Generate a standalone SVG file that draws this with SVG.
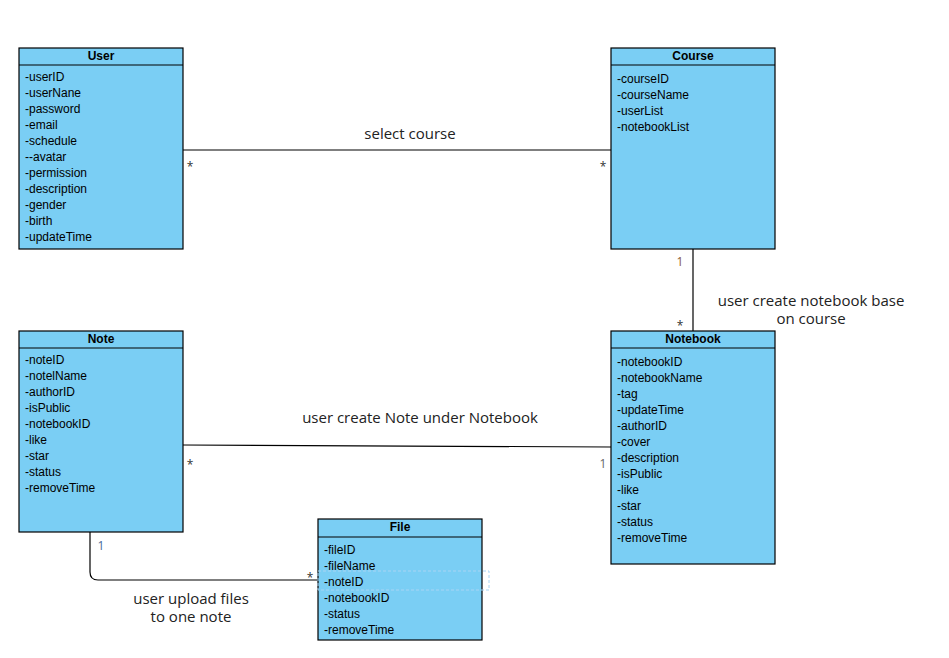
<svg xmlns="http://www.w3.org/2000/svg" width="949" height="658" viewBox="0 0 949 658">
  <style>
    .box { fill: #7acef4; stroke: #000; stroke-width: 1.2; }
    .sep { stroke: #000; stroke-width: 1.2; }
    .title { font-family: "Liberation Sans", Arial, sans-serif; font-size: 12px; font-weight: bold; text-anchor: middle; fill: #000; }
    .attr { font-family: "Liberation Sans", Arial, sans-serif; font-size: 12px; fill: #000; }
    .edge { fill: none; stroke: #000; stroke-width: 1.2; }
    .lbl { font-family: "Open Sans", "Noto Sans", sans-serif; font-size: 15px; fill: #222; text-anchor: middle; }
    .mul { font-family: "Open Sans", "Noto Sans", sans-serif; font-size: 12px; fill: #333; text-anchor: middle; }
  </style>

  <!-- associations -->
  <g id="connectors">
    <line class="edge" x1="183" y1="150" x2="611" y2="150"/>
    <text class="lbl" x="410" y="139">select course</text>
    <text class="mul" x="190" y="171">*</text>
    <text class="mul" x="603" y="171">*</text>

    <line class="edge" x1="693" y1="249" x2="693" y2="331"/>
    <text class="mul" x="680" y="266" style="fill:#8a5a3a">1</text>
    <text class="mul" x="680" y="330">*</text>
    <text class="lbl" x="811" y="306">user create notebook base</text>
    <text class="lbl" x="811" y="324">on course</text>

    <line class="edge" x1="183" y1="445" x2="611" y2="447"/>
    <text class="lbl" x="420" y="423">user create Note under Notebook</text>
    <text class="mul" x="190" y="469">*</text>
    <text class="mul" x="603" y="468" style="fill:#666">1</text>

    <path class="edge" d="M90 532 V572 Q90 580 98 580 H318"/>
    <text class="mul" x="101" y="550" style="fill:#4a6a9a">1</text>
    <text class="mul" x="310" y="582">*</text>
    <text class="lbl" x="191" y="604">user upload files</text>
    <text class="lbl" x="191" y="622">to one note</text>
  </g>

  <g id="user">
    <rect class="box" x="19" y="48" width="164" height="201"/>
    <line class="sep" x1="19" y1="65" x2="183" y2="65"/>
    <text class="title" x="101" y="60">User</text>
    <text class="attr" x="25" y="81">-userID</text>
    <text class="attr" x="25" y="97">-userNane</text>
    <text class="attr" x="25" y="113">-password</text>
    <text class="attr" x="25" y="129">-email</text>
    <text class="attr" x="25" y="145">-schedule</text>
    <text class="attr" x="25" y="161">--avatar</text>
    <text class="attr" x="25" y="177">-permission</text>
    <text class="attr" x="25" y="193">-description</text>
    <text class="attr" x="25" y="209">-gender</text>
    <text class="attr" x="25" y="225">-birth</text>
    <text class="attr" x="25" y="241">-updateTime</text>
  </g>

  <g id="course">
    <rect class="box" x="611" y="48" width="164" height="201"/>
    <line class="sep" x1="611" y1="65" x2="775" y2="65"/>
    <text class="title" x="693" y="60">Course</text>
    <text class="attr" x="617" y="83">-courseID</text>
    <text class="attr" x="617" y="99">-courseName</text>
    <text class="attr" x="617" y="115">-userList</text>
    <text class="attr" x="617" y="131">-notebookList</text>
  </g>

  <g id="note">
    <rect class="box" x="19" y="331" width="164" height="201"/>
    <line class="sep" x1="19" y1="348" x2="183" y2="348"/>
    <text class="title" x="101" y="343">Note</text>
    <text class="attr" x="25" y="364">-noteID</text>
    <text class="attr" x="25" y="380">-notelName</text>
    <text class="attr" x="25" y="396">-authorID</text>
    <text class="attr" x="25" y="412">-isPublic</text>
    <text class="attr" x="25" y="428">-notebookID</text>
    <text class="attr" x="25" y="444">-like</text>
    <text class="attr" x="25" y="460">-star</text>
    <text class="attr" x="25" y="476">-status</text>
    <text class="attr" x="25" y="492">-removeTime</text>
  </g>

  <g id="notebook">
    <rect class="box" x="611" y="331" width="164" height="233"/>
    <line class="sep" x1="611" y1="348" x2="775" y2="348"/>
    <text class="title" x="693" y="343">Notebook</text>
    <text class="attr" x="617" y="366">-notebookID</text>
    <text class="attr" x="617" y="382">-notebookName</text>
    <text class="attr" x="617" y="398">-tag</text>
    <text class="attr" x="617" y="414">-updateTime</text>
    <text class="attr" x="617" y="430">-authorID</text>
    <text class="attr" x="617" y="446">-cover</text>
    <text class="attr" x="617" y="462">-description</text>
    <text class="attr" x="617" y="478">-isPublic</text>
    <text class="attr" x="617" y="494">-like</text>
    <text class="attr" x="617" y="510">-star</text>
    <text class="attr" x="617" y="526">-status</text>
    <text class="attr" x="617" y="542">-removeTime</text>
  </g>

  <g id="file">
    <rect class="box" x="318" y="519" width="164" height="121"/>
    <line class="sep" x1="318" y1="537" x2="482" y2="537"/>
    <text class="title" x="400" y="531">File</text>
    <text class="attr" x="324" y="554">-fileID</text>
    <text class="attr" x="324" y="570">-fileName</text>
    <text class="attr" x="324" y="586">-noteID</text>
    <text class="attr" x="324" y="602">-notebookID</text>
    <text class="attr" x="324" y="618">-status</text>
    <text class="attr" x="324" y="634">-removeTime</text>
    <!-- highlighted attribute row -->
    <rect x="318" y="571" width="171" height="19" fill="none" stroke="#a8d4f4" stroke-width="1" stroke-dasharray="3 2"/>
  </g>
</svg>
